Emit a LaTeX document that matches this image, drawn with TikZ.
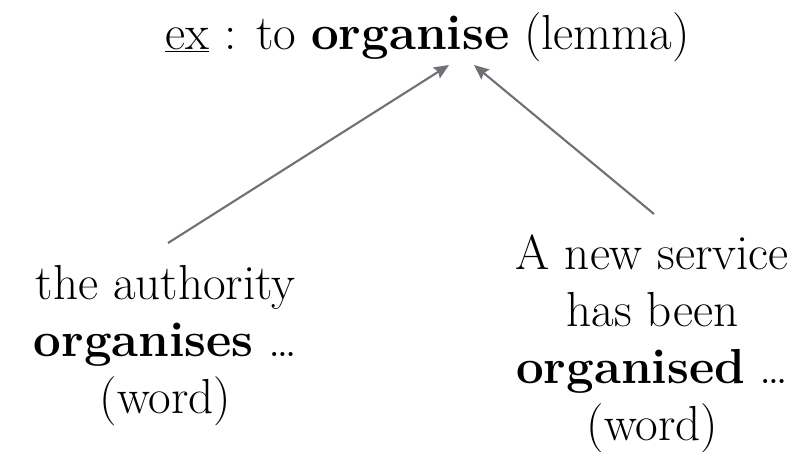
\documentclass[tikz,border=0pt]{standalone}
\usetikzlibrary{arrows.meta,positioning}
\definecolor{arrowgray}{RGB}{112,112,118}

\begin{document}
\begin{tikzpicture}[
    every node/.style={align=center, inner sep=0pt, font=\fontsize{35}{40.5}\selectfont},
    link/.style={draw=arrowgray, line width=1.5pt, -{Stealth[length=10.5pt,width=9pt,inset=1.5pt]}}]
  \useasboundingbox (0,0) rectangle (20.3,-11.275);
  \begin{scope}
    \node (lemma) [anchor=base] at (10.69,-1.225) {\underline{ex} : to \textbf{organise} (lemma)};
    \node (lw) at (4.14,-8.64) {the authority\\ \textbf{organises} \dots\\ (word)};
    \node (rw) at (16.31,-8.6) {A new service\\ has been\\ \textbf{organised} \dots\\ (word)};
  \end{scope}
  \coordinate (lwtail) at (4.2,-6.075);
  \coordinate (lwhead) at (11.225,-1.625);
  \coordinate (rwtail) at (16.35,-5.35);
  \coordinate (rwhead) at (11.85,-1.625);
  \path (lwtail) edge[link] (lwhead);
  \path (rwtail) edge[link] (rwhead);
\end{tikzpicture}
\end{document}
